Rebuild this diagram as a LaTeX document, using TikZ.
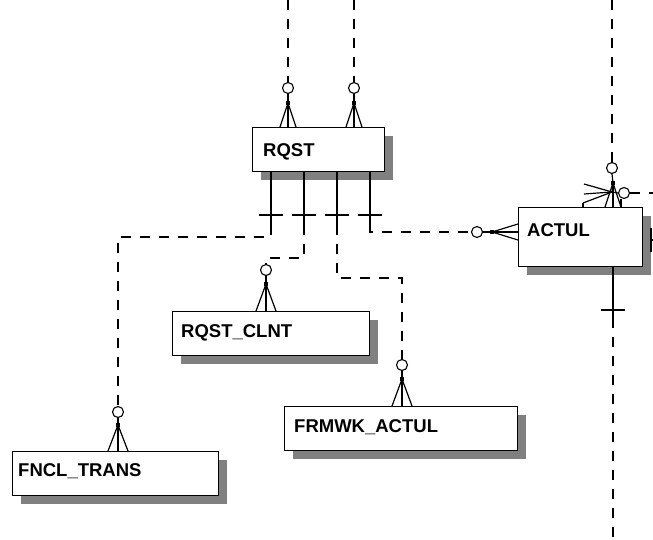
\documentclass[tikz,border=0pt]{standalone}
\usepackage{fontspec}
\setmainfont{Liberation Sans}
\usetikzlibrary{shadows,calc}
\definecolor{shadowgray}{RGB}{128,128,128}
\begin{document}
\begin{tikzpicture}[x=1pt,y=-1pt,
 entity/.style={draw, fill=white, line width=1.3pt, anchor=north west, inner sep=0pt,
   general shadow={fill=shadowgray, shadow xshift=8pt, shadow yshift=-8pt}},
 lbl/.style={anchor=west, font=\fontsize{18.5}{20}\selectfont\bfseries, inner sep=0pt, text height=13pt, text depth=0pt},
 rel/.style={line width=1.2pt, dash pattern=on 10pt off 9pt},
 idf/.style={line width=1.2pt},
 zc/.style={draw, circle, fill=white, minimum size=11pt, inner sep=0pt, line width=1.1pt},
 dotsq/.style={fill=black, minimum size=4.5pt, inner sep=0pt}
]
\useasboundingbox (0,0) rectangle (653,540);

% entities
\node[entity, minimum width=132pt, minimum height=44pt] (rqst) at (252,127) {};
\node[entity, minimum width=124pt, minimum height=59pt] (actul) at (518,207) {};
\node[entity, minimum width=197pt, minimum height=44pt] (clnt) at (172,311) {};
\node[entity, minimum width=233pt, minimum height=44pt] (frmwk) at (284,406) {};
\node[entity, minimum width=206pt, minimum height=44pt] (fncl) at (12,451) {};

\node[lbl] (rqstT) at (263,150) {RQST};
\node[lbl] (actulT) at (527,230) {ACTUL};
\node[lbl] (clntT) at (181,331) {RQST\_CLNT};
\node[lbl] (frmwkT) at (294,426) {FRMWK\_ACTUL};
\node[lbl] (fnclT) at (18,470) {FNCL\_TRANS};

% free ends
\coordinate (t1) at (288,0);
\coordinate (t2) at (354,0);
\coordinate (t3) at (612,0);
\coordinate (t4) at (653,193);
\coordinate (t5) at (613,540);
\coordinate (r1) at (653,240);

% RQST top relationships
\node[zc] (c1) at (288,88) {};
\node[dotsq] (d1) at (288,103) {};
\node[zc] (c0) at (354,88) {};
\node[dotsq] (d0) at (354,103) {};
\draw[rel] (t1) -- (c1.north);
\draw[rel] (t2) -- (c0.north);
\draw[idf] (c1.south) -- (d1.center);
\draw[idf] (c0.south) -- (d0.center);
\foreach \dx in {-8,0,8}{
  \draw[idf] (d1.center) -- ($(d1 |- rqst.north)+(\dx,0)$);
  \draw[idf] (d0.center) -- ($(d0 |- rqst.north)+(\dx,0)$);
}

% RQST bottom identifying ends
\coordinate (b1) at (271,225);
\coordinate (b2) at (304,225);
\coordinate (b3) at (337,225);
\coordinate (b4) at (370,225);
\foreach \b in {b1,b2,b3,b4}{
  \draw[idf] (\b |- rqst.south) -- (\b);
  \draw[idf] ($(\b)+(-12,-10)$) -- ($(\b)+(12,-10)$);
}

% children
\node[zc] (c5) at (118,412) {};
\node[dotsq] (d5) at (118,425) {};
\node[zc] (c3) at (266,270) {};
\node[dotsq] (d3) at (266,284) {};
\node[zc] (c4) at (402,365) {};
\node[dotsq] (d4) at (402,379) {};
\node[zc] (c2) at (477,232) {};
\node[dotsq] (d2) at (492,232) {};

\coordinate (k1) at (118,237);
\coordinate (k2) at (266,258);
\coordinate (k3) at (402,278);

\draw[rel] (b1) |- (k1) -- (c5.north);
\draw[rel] (b2) |- (k2) -- (c3.north);
\draw[rel] (b3) |- (k3) -- (c4.north);
\draw[rel] (b4) |- (c2.west);

\draw[idf] (c5.south) -- (d5.center);
\draw[idf] (c3.south) -- (d3.center);
\draw[idf] (c4.south) -- (d4.center);
\draw[idf] (c2.east) -- (d2.center);
\foreach \dx in {-10,0,10}{
  \draw[idf] (d5.center) -- ($(d5 |- fncl.north)+(\dx,0)$);
  \draw[idf] (d3.center) -- ($(d3 |- clnt.north)+(\dx,0)$);
  \draw[idf] (d4.center) -- ($(d4 |- frmwk.north)+(\dx,0)$);
}
\foreach \dy in {-8,0,8}{
  \draw[idf] (d2.center) -- ($(actul.west |- d2)+(0,\dy)$);
}

% ACTUL top cluster
\node[zc] (c6) at (612,168) {};
\node[dotsq] (d6) at (613,183) {};
\draw[rel] (t3) -- (c6.north);
\draw[idf] (c6.south) -- (d6.center);
\foreach \dx in {-8,0,8}{
  \draw[idf] (d6.center) -- ($(d6 |- actul.north)+(\dx,0)$);
}
\coordinate (f0) at (612,192);
\coordinate (f1) at (584,184);
\coordinate (f2) at (584,194);
\coordinate (f3) at (583,203);
\draw[idf] (f0) -- (f1);
\draw[idf] (f0) -- (f2);
\draw[idf] (f0) -- (f3);
\draw[idf] (f3) -- ++(0,4);
\draw[idf] (d6.center) -- (f0);
\node[zc] (c7) at (624,193) {};
\draw[idf] (f0) -- (c7.west);
\draw[idf] ($(c7.south)+(-3,0)$) -- ($(c7.south |- actul.north)+(-3,0)$);
\draw[rel] (c7.east) -- (t4);

% ACTUL bottom and right
\coordinate (b5) at (613,318);
\draw[idf] (b5 |- actul.south) -- (b5);
\draw[idf] ($(b5)+(-12,-8)$) -- ($(b5)+(12,-8)$);
\draw[rel] (b5) -- (t5);
\draw[idf] ($(r1 -| actul.east)+(8,0)$) -- (r1);
\draw[idf] ($(r1)+(-2,-12)$) -- ($(r1)+(-2,12)$);
\end{tikzpicture}
\end{document}
